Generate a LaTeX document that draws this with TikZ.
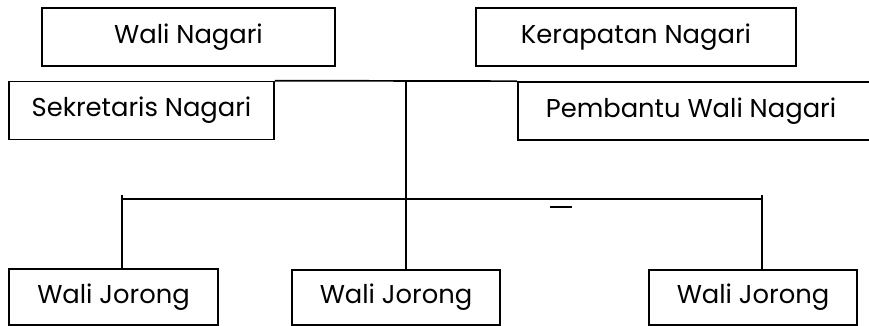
\documentclass[tikz,border=0pt]{standalone}
\usepackage{fontspec}
\setmainfont{Poppins}
\begin{document}
\begin{tikzpicture}[x=1pt,y=-1pt,
  unit/.style={draw, line width=1.7pt, inner sep=0pt, font=\fontsize{25.8}{30}\selectfont},
  link/.style={line width=1.7pt}]
\useasboundingbox (0,0) rectangle (869,325);
% top level
\node[unit, minimum width=293pt, minimum height=58pt] (wali) at (188.5,37) {Wali Nagari};
\node[unit, minimum width=320pt, minimum height=58pt] (kerapatan) at (636,37) {Kerapatan Nagari};
% staff level
\node[unit, minimum width=265pt, minimum height=58pt] (sekretaris) at (141.5,110.5) {Sekretaris Nagari};
\node[unit, minimum width=357pt, minimum height=58pt] (pembantu) at (696.5,111) {\hspace*{-11pt}Pembantu Wali Nagari};
% jorong level
\node[unit, minimum width=209pt, minimum height=56pt] (jorongA) at (113.5,297) {Wali Jorong};
\node[unit, minimum width=208pt, minimum height=55pt] (jorongB) at (396,297.5) {Wali Jorong};
\node[unit, minimum width=208pt, minimum height=55pt] (jorongC) at (753,297.5) {Wali Jorong};
% connectors
\coordinate (top) at (406,81);
\coordinate (busL) at (122,199);
\coordinate (busR) at (762,199);
\coordinate (tickL) at (122,195);
\coordinate (tickR) at (762,195);
\draw[link] (sekretaris.north east) -- (pembantu.north west);
\draw[link] (top) -- (top |- jorongB.north);
\draw[link] (busL) -- (busR);
\draw[link] (tickL) -- (tickL |- jorongA.north);
\draw[link] (tickR) -- (tickR |- jorongC.north);
\coordinate (dashA) at (550,207);
\coordinate (dashB) at (572,207);
\draw[line width=2.4pt] (dashA) -- (dashB);
\end{tikzpicture}
\end{document}
